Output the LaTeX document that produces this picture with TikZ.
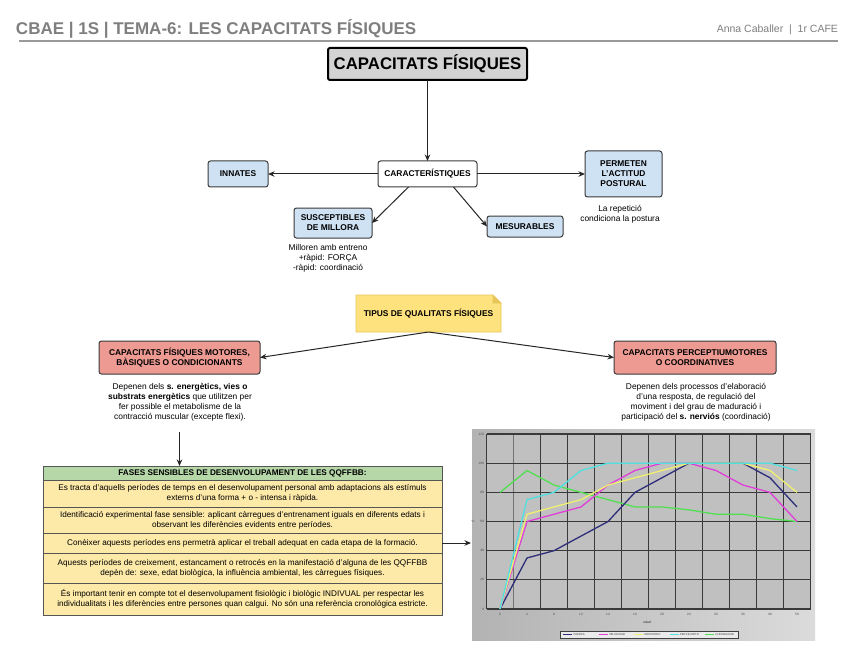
\documentclass[tikz,border=0pt]{standalone}
\usepackage{fontspec}
\setmainfont{Liberation Sans}
\usetikzlibrary{arrows.meta,calc,backgrounds}
\pgfdeclarelayer{paper}
\pgfsetlayers{paper,background,main}
\definecolor{headgray}{HTML}{7F7F7F}
\definecolor{rulegray}{HTML}{9A9A9A}
\definecolor{boxline}{HTML}{3A3A3A}
\definecolor{boxblue}{HTML}{CFE2F3}
\definecolor{boxred}{HTML}{EC9A92}
\definecolor{titlefill}{HTML}{D3D3D3}
\definecolor{noteyellow}{HTML}{FDE27E}
\definecolor{notefold}{HTML}{E8C65A}
\definecolor{hdrgreen}{HTML}{B6D7A8}
\definecolor{rowyellow}{HTML}{FDE9A8}
\definecolor{tabline}{HTML}{555555}
\definecolor{plotbg}{HTML}{C0C0C0}
\definecolor{gridc}{HTML}{3A3A3A}
\definecolor{cfuerza}{HTML}{2E2E7A}
\definecolor{cvel}{HTML}{E040D8}
\definecolor{cres}{HTML}{F0F070}
\definecolor{cperc}{HTML}{50E0E0}
\definecolor{cflex}{HTML}{50E050}
\tikzset{
  boxbase/.style={draw=boxline, line width=1pt, rounded corners=2.5pt, align=center,
    font=\bfseries\fontsize{8.4}{10}\selectfont},
  bluebox/.style={boxbase, fill=boxblue},
  redbox/.style={boxbase, fill=boxred},
  txt/.style={align=center, font=\fontsize{8.4}{10}\selectfont},
  rowbox/.style={draw=tabline, line width=0.8pt, fill=rowyellow, minimum width=399,
    align=center, font=\fontsize{8.2}{10}\selectfont},
  arr/.style={-{Stealth[length=6.5pt,width=5.5pt]}, line width=1pt, black!85},
  tick/.style={font=\fontsize{3.2}{3.5}\selectfont, text=black!70},
  dataline/.style={line width=1.3pt, line join=round}
}
\begin{document}
\begin{tikzpicture}[x=1pt,y=-1pt, every node/.style={inner sep=0pt, outer sep=0pt}]
\begin{pgfonlayer}{paper}
\fill[white] (0,0) rectangle (848,655);
\end{pgfonlayer}
\useasboundingbox (0,0) rectangle (848,655);

% header
\node[anchor=base west, font=\bfseries\fontsize{17}{20}\selectfont, text=headgray] (hdr) at (16,35) {CBAE | 1S | TEMA-6: LES CAPACITATS FÍSIQUES};
\node[anchor=base east, font=\fontsize{10.5}{12}\selectfont, text=headgray] (auth) at (838,33) {Anna Caballer \ |\ \ 1r CAFE};
\draw[rulegray, line width=1.8pt] (19,41) -- (838,41);

% top part
\node[draw=black, line width=2pt, fill=titlefill, rounded corners=2pt, minimum width=199, minimum height=32,
  font=\bfseries\fontsize{16.8}{19}\selectfont] (title) at (427.5,64) {CAPACITATS FÍSIQUES};
\node[boxbase, fill=white, minimum width=99, minimum height=26] (carac) at (427.5,174) {CARACTERÍSTIQUES};
\node[bluebox, minimum width=60, minimum height=26] (innates) at (238,174) {INNATES};
\node[bluebox, minimum width=77, minimum height=46] (permeten) at (623.5,174) {PERMETEN\\L'ACTITUD\\POSTURAL};
\node[bluebox, minimum width=78, minimum height=30] (suscept) at (333,223) {SUSCEPTIBLES\\DE MILLORA};
\node[bluebox, minimum width=76, minimum height=21] (mesur) at (525,226.5) {MESURABLES};
\node[txt] (reptext) at (620,214) {La repetició\\condiciona la postura};
\node[txt] (millortext) at (328,258) {Milloren amb entreno\\+ràpid: FORÇA\\-ràpid: coordinació};

\draw[arr] (title.south) -- (carac.north);
\draw[arr] (carac.west) -- (innates.east);
\draw[arr] (carac.east) -- (permeten.west);
\draw[arr] ($(carac.south)+(-19,0)$) -- (suscept.east);
\draw[arr] ($(carac.south)+(26,0)$) -- (mesur.west);

% types
\node[minimum width=145, minimum height=37, font=\bfseries\fontsize{8.4}{10}\selectfont] (tipus) at (428.5,313.5) {TIPUS DE QUALITATS FÍSIQUES};
\begin{pgfonlayer}{background}
\filldraw[fill=noteyellow, draw=notefold, line width=0.6pt] (tipus.north west) -- ($(tipus.north east)+(-8,0)$) -- ($(tipus.north east)+(0,8)$) -- (tipus.south east) -- (tipus.south west) -- cycle;
\filldraw[fill=notefold, draw=notefold, line width=0.6pt] ($(tipus.north east)+(-8,0)$) -- ($(tipus.north east)+(-8,8)$) -- ($(tipus.north east)+(0,8)$) -- cycle;
\end{pgfonlayer}

\node[redbox, minimum width=161, minimum height=33] (lred) at (179.5,357.5) {CAPACITATS FÍSIQUES MOTORES,\\BÀSIQUES O CONDICIONANTS};
\node[redbox, minimum width=162, minimum height=33] (rred) at (695,357.5) {CAPACITATS PERCEPTIUMOTORES\\O COORDINATIVES};
\draw[arr] (tipus.south) -- (lred.east);
\draw[arr] (tipus.south) -- (rred.west);

\node[txt] (ltext) at (180,402) {Depenen dels \textbf{s. energètics, vies o}\\\textbf{substrats energètics} que utilitzen per\\fer possible el metabolisme de la\\contracció muscular (excepte flexi).};
\node[txt] (rtext) at (696,402) {Depenen dels processos d'elaboració\\d'una resposta, de regulació del\\moviment i del grau de maduració i\\participació del \textbf{s. nerviós} (coordinació)};

% table
\node[rowbox, fill=hdrgreen, minimum height=14, font=\bfseries\fontsize{8.2}{10}\selectfont] (thead) at (242.5,473) {FASES SENSIBLES DE DESENVOLUPAMENT DE LES QQFFBB:};
\node[rowbox, minimum height=27] (row1) at (242.5,493.5) {Es tracta d'aquells períodes de temps en el desenvolupament personal amb adaptacions als estímuls\\externs d'una forma + o - intensa i ràpida.};
\node[rowbox, minimum height=26] (row2) at (242.5,520) {Identificació experimental fase sensible: aplicant càrregues d'entrenament iguals en diferents edats i\\observant les diferències evidents entre períodes.};
\node[rowbox, minimum height=20] (row3) at (242.5,543) {Conèixer aquests períodes ens permetrà aplicar el treball adequat en cada etapa de la formació.};
\node[rowbox, minimum height=30] (row4) at (242.5,568) {Aquests períodes de creixement, estancament o retrocés en la manifestació d'alguna de les QQFFBB\\depèn de: sexe, edat biològica, la influència ambiental, les càrregues físiques.};
\node[rowbox, minimum height=32] (row5) at (242.5,599) {És important tenir en compte tot el desenvolupament fisiològic i biològic INDIVUAL per respectar les\\individualitats i les diferències entre persones quan calgui. No són una referència cronològica estricte.};

\coordinate (dstart) at (179.5,432);
\draw[arr] (dstart) -- (dstart |- thead.north);

% chart
\coordinate (chartin) at (471,543);
\draw[arr] (row3.east) -- (chartin);
\shade[left color=black!30, right color=black!14] (472,429) rectangle (815,640);
\fill[plotbg] (486.5,434) rectangle (810.5,609);
\foreach \k in {0,2,3,...,12} \draw[gridc, line width=1pt] ({486.5+27*\k},434) -- ({486.5+27*\k},609);
\draw[black!55, line width=0.5pt] (513.5,434) -- (513.5,609);
\foreach \v in {0,20,...,120} {
  \draw[gridc, line width=1.3pt] (486.5,{609-1.458*\v}) -- (810.5,{609-1.458*\v});
  \node[tick, anchor=east] (yl\v) at (484,{609-1.458*\v}) {\v};
}
\foreach \lab [count=\i from 0] in {0,2,8,12,14,16,20,24,30,36,40,50}
  \node[tick] (xl\i) at ({500+27*\i},614) {\lab};
\node[tick, font=\bfseries\fontsize{3.2}{3.5}\selectfont] (xtitle) at (647,622) {edad};
\node[tick] (ytitle) at (473,521) {\%};

\begin{scope}[shift={(500,609)}, x=27pt, y=1.458pt]
\draw[dataline, cflex] plot coordinates {(0,80) (1,95) (2,85) (3,80) (4,75) (5,70) (6,70) (7,68) (8,65) (9,65) (10,62) (11,60)};
\draw[dataline, cfuerza] plot coordinates {(0,0) (1,35) (2,40) (3,50) (4,60) (5,80) (6,90) (7,100) (8,100) (9,100) (10,90) (11,70)};
\draw[dataline, cvel] plot coordinates {(0,0) (1,60) (2,65) (3,70) (4,85) (5,95) (6,100) (7,100) (8,95) (9,85) (10,80) (11,60)};
\draw[dataline, cres] plot coordinates {(0,0) (1,65) (2,70) (3,75) (4,85) (5,90) (6,95) (7,100) (8,100) (9,100) (10,95) (11,80)};
\draw[dataline, cperc] plot coordinates {(0,0) (1,75) (2,80) (3,95) (4,100) (5,100) (6,100) (7,100) (8,100) (9,100) (10,100) (11,95)};
\end{scope}

% legend
\node[draw=black!75, line width=0.8pt, fill=black!8, minimum width=178, minimum height=7] (legend) at (649,634.5) {};
\foreach \c/\t [count=\j from 0] in {cfuerza/FUERZA, cvel/VELOCIDAD, cres/RESISTENC, cperc/PERCE-MOTR, cflex/FLEXIBILIDAD} {
  \draw[\c, line width=1.3pt] ({563+35.5*\j},634.5) -- ({572+35.5*\j},634.5);
  \node[anchor=west, font=\fontsize{2.8}{3}\selectfont, text=black!75] (lg\j) at ({573.5+35.5*\j},634.5) {\t};
}
\end{tikzpicture}
\end{document}
